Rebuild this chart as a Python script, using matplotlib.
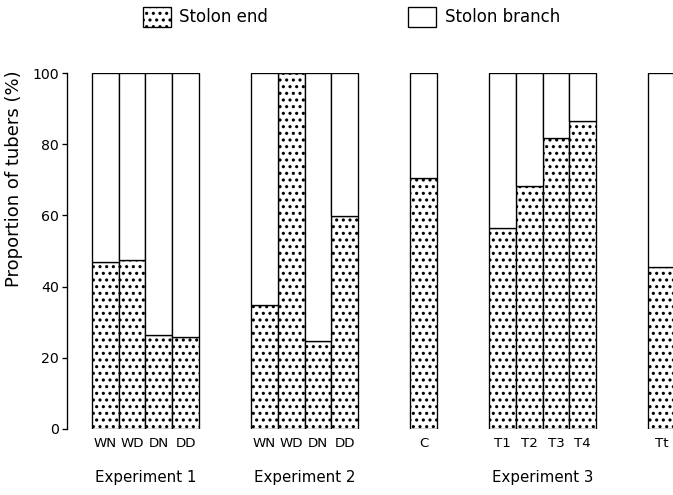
import matplotlib
matplotlib.use('Agg')
import matplotlib.pyplot as plt
from matplotlib.patches import Patch
from matplotlib.transforms import blended_transform_factory

# proportion of tubers formed at the stolon end (%), rest is stolon branch
exp1_labels = ['WN', 'WD', 'DN', 'DD']
exp1_end = [47.0, 47.6, 26.4, 25.8]

exp2_labels = ['WN', 'WD', 'DN', 'DD']
exp2_end = [34.8, 100.0, 24.7, 59.8]

ctrl_labels = ['C']
ctrl_end = [70.6]

exp3_labels = ['T1', 'T2', 'T3', 'T4']
exp3_end = [56.5, 68.3, 81.7, 86.5]

tt_labels = ['Tt']
tt_end = [45.6]

groups = [
    ('Experiment 1', exp1_labels, exp1_end),
    ('Experiment 2', exp2_labels, exp2_end),
    ('', ctrl_labels, ctrl_end),
    ('Experiment 3', exp3_labels, exp3_end),
    ('', tt_labels, tt_end),
]

plt.rcParams['font.family'] = ['DejaVu Sans']
plt.rcParams['hatch.linewidth'] = 1.1

dpi = 120
fig = plt.figure(figsize=(673 / dpi, 495 / dpi), dpi=dpi)
ax = fig.add_axes([67 / 673, 1 - 429 / 495, 606 / 673, 356 / 495])

lw = 0.8
start = 0.93
gap = 1.95
ticks, ticklabels = [], []
trans = blended_transform_factory(ax.transData, ax.transAxes)
for name, labels, ends in groups:
    xs = [start + 0.5 + i for i in range(len(labels))]
    branch = [100 - v for v in ends]
    ax.bar(xs, ends, width=1.0, facecolor='white', edgecolor='black',
           linewidth=lw, hatch='...')
    ax.bar(xs, branch, bottom=ends, width=1.0, facecolor='white',
           edgecolor='black', linewidth=lw)
    ticks += xs
    ticklabels += labels
    if name:
        ax.text(sum(xs) / len(xs), -0.1376, name, transform=trans,
                ha='center', va='center', fontsize=9)
    start += len(labels) + gap

ax.set_xlim(0, 606 / 26.75)
ax.set_ylim(0, 100)
ax.set_xticks(ticks)
ax.set_xticklabels(ticklabels)
ax.set_yticks(range(0, 101, 20))
ax.tick_params(axis='x', length=0, pad=5, labelsize=8)
ax.tick_params(axis='y', direction='out', length=3, width=lw, pad=2,
               labelsize=8.5)

for side in ['top', 'right', 'bottom']:
    ax.spines[side].set_visible(False)
ax.spines['left'].set_linewidth(lw)

ax.set_ylabel('Proportion of tubers (%)', fontsize=10.8)
ax.yaxis.set_label_coords(-0.0726, 0.702)

handles = [
    Patch(facecolor='white', edgecolor='black', linewidth=lw, hatch='...',
          label='Stolon end'),
    Patch(facecolor='white', edgecolor='black', linewidth=lw,
          label='Stolon branch'),
]
fig.legend(handles=handles, loc='center left',
           bbox_to_anchor=(143 / 673, 1 - 17 / 495), ncol=2, frameon=False,
           fontsize=10, handlelength=1.68, handleheight=1.5,
           handletextpad=0.5, columnspacing=8.4, borderpad=0,
           borderaxespad=0)

fig.savefig('out.png', dpi=dpi)
